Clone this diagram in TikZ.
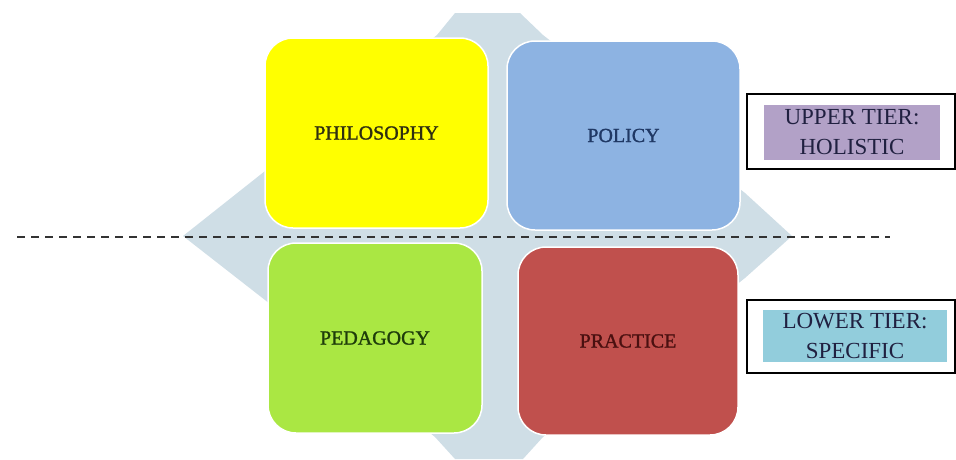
\documentclass[tikz,border=0pt]{standalone}
\usepackage{fontspec}
\setmainfont{Liberation Serif}
\newfontfamily\quadfont{Liberation Serif}[BoldFont=Liberation Serif, BoldFeatures={FakeBold=1.2}]
\definecolor{bgblue}{HTML}{CFDEE6}
\definecolor{cyellow}{HTML}{FFFF00}
\definecolor{cblue}{HTML}{8DB3E2}
\definecolor{cgreen}{HTML}{AAE743}
\definecolor{cred}{HTML}{C0504D}
\definecolor{tyellow}{HTML}{2E2E10}
\definecolor{tblue}{HTML}{1F3864}
\definecolor{tgreen}{HTML}{1E3C0A}
\definecolor{tred}{HTML}{4A1010}
\definecolor{cpurple}{HTML}{B2A1C7}
\definecolor{ccyan}{HTML}{92CDDC}
\definecolor{tnavy}{HTML}{202040}
\definecolor{dashgray}{HTML}{333333}
\begin{document}
\begin{tikzpicture}[x=1pt,y=-1pt,
  quad/.style={rectangle, rounded corners=28pt, draw=white, line width=1.5pt,
    font=\quadfont\bfseries\fontsize{20}{24}\selectfont, inner sep=0pt},
  tierout/.style={rectangle, draw=black, line width=2pt, fill=white, inner sep=0pt},
  tierin/.style={rectangle, inner sep=0pt, align=center, text=tnavy,
    font=\fontsize{23}{30}\selectfont}]
\useasboundingbox (0,0) rectangle (956,459);
% background cross shape
\fill[bgblue] (455,13) -- (520,13) -- (543,35) -- (745,193) -- (792,236) -- (745,278)
  -- (543,437) -- (523,459) -- (455,459) -- (435,437) -- (265,300) -- (183,236)
  -- (260,175) -- (437,35) -- cycle;
% dashed divider
\coordinate (dl) at (17,237);
\coordinate (dr) at (890,237);
\draw[dashgray, line width=2.2pt, dash pattern=on 8pt off 6pt] (dl) -- (dr);
% quadrants
\node[quad, fill=cyellow, text=tyellow, minimum width=223pt, minimum height=190pt]
  (phil) at (376.5,133) {PHILOSOPHY};
\node[quad, fill=cblue, text=tblue, minimum width=233pt, minimum height=189pt]
  (pol) at (623.5,135.5) {POLICY};
\node[quad, fill=cgreen, text=tgreen, minimum width=214pt, minimum height=190pt]
  (ped) at (375,338) {PEDAGOGY};
\node[quad, fill=cred, text=tred, minimum width=220pt, minimum height=188pt]
  (prac) at (628,341) {PRACTICE};
% tier labels
\node[tierout, minimum width=208pt, minimum height=75pt] (upout) at (851,131.5) {};
\node[tierin, fill=cpurple, minimum width=176pt, minimum height=55pt] (upin) at (852,132.5)
  {UPPER TIER:\\HOLISTIC};
\node[tierout, minimum width=208pt, minimum height=73pt] (lowout) at (851,336.5) {};
\node[tierin, fill=ccyan, minimum width=184pt, minimum height=52pt] (lowin) at (855,336)
  {LOWER TIER:\\SPECIFIC};
\end{tikzpicture}
\end{document}
